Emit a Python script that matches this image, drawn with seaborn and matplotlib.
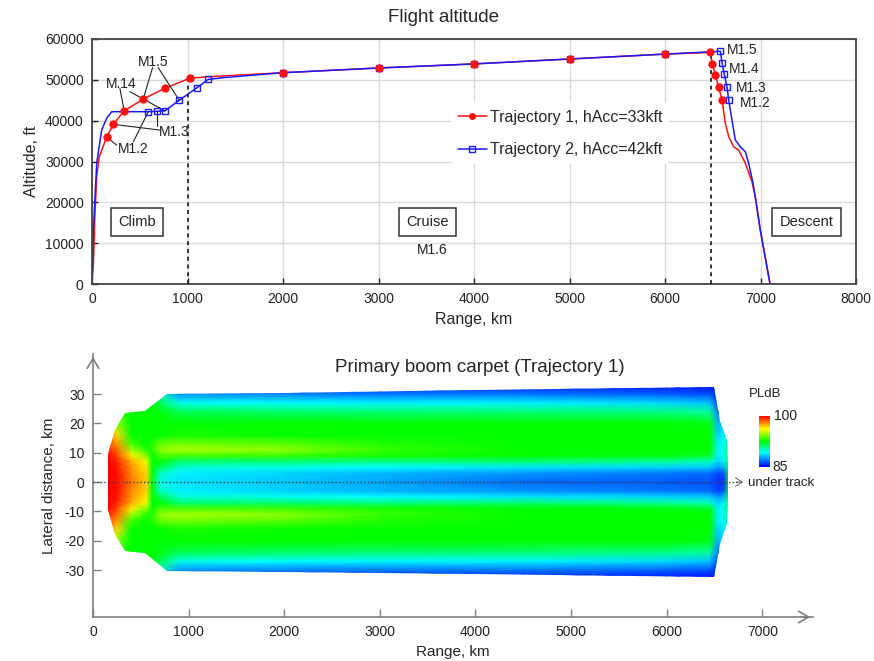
import matplotlib.pyplot as plt
import matplotlib.colors as mcolors
from matplotlib.lines import Line2D
from matplotlib.patches import Polygon
import numpy as np
import pandas as pd
import seaborn as sns

# ===== Flight altitude data =====
traj1_range = [0, 14, 31, 49, 76, 154, 223, 337, 536, 760, 1024, 1250, 2000, 3000, 4000,
               5000, 6000, 6476, 6493, 6527, 6562, 6597, 6632, 6667, 6719, 6771, 6841,
               6910, 6945, 6998, 7100]
traj1_alt = [0, 5000, 17300, 26300, 31200, 36000, 39100, 42400, 45300, 47900, 50400, 50800,
             51750, 52900, 53900, 55100, 56300, 56700, 54000, 51300, 48150, 45060, 39300,
             36100, 33600, 32800, 29600, 25100, 21400, 13200, 0]
traj1_mach_range = [154, 223, 337, 536, 760, 1024, 2000, 3000, 4000, 5000, 6000,
                    6476, 6493, 6527, 6562, 6597]
traj1_mach_alt = [36000, 39100, 42400, 45300, 47900, 50400, 51750, 52900, 53900, 55100,
                  56300, 56700, 54000, 51300, 48150, 45060]

traj2_range = [0, 14, 49, 101, 154, 206, 589, 683, 763, 913, 1101, 1216, 1400, 2000, 3000,
               4000, 5000, 6000, 6580, 6597, 6621, 6649, 6667, 6701, 6736, 6789, 6841, 6876,
               6918, 6945, 6998, 7100]
traj2_alt = [0, 13200, 29600, 37700, 40600, 42200, 42200, 42300, 42400, 45000, 48100, 50100,
             50600, 51750, 52900, 53900, 55100, 56300, 57000, 54200, 51400, 48300, 45060,
             40200, 35300, 33600, 32400, 29600, 25100, 21400, 13200, 0]
traj2_mach_range = [589, 683, 763, 913, 1101, 1216, 2000, 3000, 4000, 5000, 6000,
                    6580, 6597, 6621, 6649, 6667]
traj2_mach_alt = [42200, 42300, 42400, 45000, 48100, 50100, 51750, 52900, 53900, 55100,
                  56300, 57000, 54200, 51400, 48300, 45060]

# climb labels: text, text position, leader start (red), leader start (blue)
climb_labels = ["M1.2", "M1.3", "M.14", "M1.5"]
climb_label_pos = [(432, 33000), (860, 37300), (310, 49000), (641, 54400)]
leader_red_from = [(258, 34000), (711, 37700), (292, 47900), (634, 53000)]
leader_blue_from = [(432, 34800), (683, 38600), (397, 47100), (693, 53000)]

descent_labels = ["M1.5", "M1.4", "M1.3", "M1.2"]
descent_label_pos = [(6646, 57300), (6667, 52650), (6740, 48000), (6780, 44300)]

phase_names = ["Climb", "Cruise", "Descent"]
phase_pos = [(470, 15200), (3510, 15200), (7480, 15200)]
phase_bounds = [1000, 6480]
phase_bound_top = [50400, 56700]

# ===== Boom carpet data (PLdB at range stations x lateral offsets) =====
carpet_stations = [150, 250, 400, 560, 620, 700, 900, 2000, 3000, 4500, 6000, 6450, 6540,
                   6600, 6660]
lat_half = [0, 3, 5, 7, 9, 11, 13, 16, 20, 24, 27, 30, 33]
pldb_half = [
    [100, 100, 100, 100, 100, 99.5, 99, 98.5, 97.5, 96, 95, 94, 94],
    [99.8, 99.8, 99.7, 99.5, 99, 98.5, 97.8, 96.8, 94.5, 93, 92.5, 92.5, 92.5],
    [98.3, 98, 97.8, 97.5, 96.5, 95, 93.5, 92.5, 92.5, 92.5, 92.5, 92.5, 92.5],
    [97, 96.8, 96.5, 96, 94.5, 93, 92.5, 92.5, 92.5, 92.5, 92.5, 92, 92],
    [92.5, 92.5, 92.5, 92.5, 92.5, 93, 93, 92.5, 92.5, 92.5, 92.3, 91.5, 91],
    [89.5, 90, 91.5, 92.5, 93.5, 94.5, 94, 92.5, 92.5, 92.3, 91.5, 90, 89],
    [88.8, 89, 89.8, 91, 93.5, 95, 94.2, 92.8, 92.5, 91.5, 89.5, 87.5, 86],
    [88.3, 88.5, 89.5, 91, 93.3, 94.5, 93.8, 92.6, 92.5, 91.2, 89.2, 87.2, 85.8],
    [87.8, 88, 89.2, 90.8, 92.8, 93.3, 93, 92.5, 92.5, 91, 89, 87, 85.6],
    [86.8, 87.5, 88.8, 91, 92.5, 92.5, 92.5, 92.5, 92.5, 91, 89, 87, 85.5],
    [86.5, 87, 88.5, 90.5, 92.3, 92.5, 92.5, 92.5, 92.5, 90.8, 88.6, 86.6, 85.3],
    [86.3, 86.8, 88.3, 90, 92, 92.5, 92.5, 92.5, 92.3, 90.5, 88.2, 86.3, 85.2],
    [85.8, 86.2, 87.5, 88.5, 89, 89, 89, 88.5, 88, 87, 86.2, 85.8, 85.5],
    [86, 86.5, 88, 89, 89.5, 89.5, 89.5, 89, 88.5, 87.5, 86.5, 86, 85.5],
    [93, 93, 92.8, 92.5, 92, 91.5, 91, 90, 89, 88, 87, 86, 85.5],
]
outline_range = [157, 230, 335, 545, 775, 2000, 4000, 6496, 6560, 6632, 6645]
outline_half = [9.5, 17.7, 23.5, 24.2, 30.2, 30.5, 31.3, 32.4, 21, 14, 4]

# ===== Style =====
sns.set_theme(style="whitegrid")
plt.rcParams["font.family"] = ["Liberation Sans", "DejaVu Sans"]
plt.rcParams["axes.unicode_minus"] = False

RED = "#ff1010"
BLUE = "#1a1aff"
DARK = "#333333"

fig = plt.figure(figsize=(8.74, 6.61), dpi=100)

# ----- Top: flight altitude -----
ax1 = fig.add_axes([0.1053, 0.5703, 0.8741, 0.3707])
df1 = pd.DataFrame({"range": traj1_range, "alt": traj1_alt})
df2 = pd.DataFrame({"range": traj2_range, "alt": traj2_alt})
sns.lineplot(data=df1, x="range", y="alt", sort=False, estimator=None, color=RED, lw=1.1, ax=ax1)
sns.lineplot(data=df2, x="range", y="alt", sort=False, estimator=None, color=BLUE, lw=1.1, ax=ax1)
ax1.plot(traj2_mach_range, traj2_mach_alt, ls="none", marker="s", ms=5, mfc="none",
         mec=BLUE, mew=1.0, zorder=4)
ax1.plot(traj1_mach_range, traj1_mach_alt, ls="none", marker="o", ms=5, color=RED, zorder=5)

for xb, top in zip(phase_bounds, phase_bound_top):
    ax1.plot([xb, xb], [0, top], color=DARK, ls=(0, (2, 2)), lw=1.4, zorder=3)

for i, (lab, pos) in enumerate(zip(climb_labels, climb_label_pos)):
    ax1.text(pos[0], pos[1], lab, fontsize=10, ha="center", va="center", color="#222222")
    ax1.plot([leader_red_from[i][0], traj1_mach_range[i]],
             [leader_red_from[i][1], traj1_mach_alt[i]], color="#222222", lw=0.8, zorder=3)
    ax1.plot([leader_blue_from[i][0], traj2_mach_range[i]],
             [leader_blue_from[i][1], traj2_mach_alt[i]], color="#222222", lw=0.8, zorder=3)

for lab, pos in zip(descent_labels, descent_label_pos):
    ax1.text(pos[0], pos[1], lab, fontsize=10, ha="left", va="center", color="#222222")

for name, pos in zip(phase_names, phase_pos):
    ax1.text(pos[0], pos[1], name, fontsize=10.5, ha="center", va="center", color="#222222",
             bbox=dict(boxstyle="square,pad=0.5", fc="white", ec=DARK, lw=1.1))
ax1.text(3560, 8300, "M1.6", fontsize=10, ha="center", va="center", color="#222222")

handles = [Line2D([], [], color=RED, marker="o", ms=4, lw=1.1),
           Line2D([], [], color=BLUE, marker="s", ms=4, mfc="none", lw=1.1)]
leg = ax1.legend(handles, ["Trajectory 1, hAcc=33kft", "Trajectory 2, hAcc=42kft"],
                 loc="upper left", bbox_to_anchor=(0.46, 0.77), fontsize=11.5,
                 handlelength=1.8, handletextpad=0.2, labelspacing=1.1,
                 frameon=True, facecolor="white", edgecolor="none", framealpha=1)

ax1.set_xlim(0, 8000)
ax1.set_ylim(0, 60000)
ax1.set_xticks(range(0, 8001, 1000))
ax1.set_yticks(range(0, 60001, 10000))
ax1.grid(True, color="#d9d9d9", lw=1.0)
ax1.tick_params(direction="in", length=4, width=1, colors="#222222", labelsize=10,
                bottom=True, left=True, pad=6)
for s in ax1.spines.values():
    s.set_color("#444444")
    s.set_linewidth(1.3)
ax1.set_xlabel("Range, km", fontsize=11.5, labelpad=4)
ax1.set_ylabel("Altitude, ft", fontsize=11.5, labelpad=4)
fig.text(443 / 874, 1 - 18 / 661, "Flight altitude", fontsize=13.5, ha="center", va="center")

# ----- Bottom: primary boom carpet -----
ax2 = fig.add_axes([0.1064, 0.0666, 0.8238, 0.3979])
ax2.set_facecolor("white")
lat_full = np.array([-v for v in lat_half[::-1]] + lat_half[1:])
pldb = np.array([row[::-1] + row[1:] for row in pldb_half])
X, Y = np.meshgrid(np.array(carpet_stations, dtype=float), lat_full, indexing="ij")

cmap = mcolors.LinearSegmentedColormap.from_list(
    "pldb", [(0.0, "#0000ff"), (0.28, "#00ffff"), (0.5, "#00ff00"),
             (0.75, "#ffff00"), (1.0, "#ff0000")])
mesh = ax2.pcolormesh(X, Y, pldb, shading="gouraud", cmap=cmap, vmin=85, vmax=100, zorder=1)

upper = list(zip(outline_range, outline_half))
lower = [(r, -h) for r, h in zip(outline_range[::-1], outline_half[::-1])]
clip = Polygon(upper + lower, closed=True, transform=ax2.transData, fc="none", ec="none")
ax2.add_patch(clip)
mesh.set_clip_path(clip)

ax2.plot([0, 6760], [0, 0], color="#444444", ls=(0, (1, 1.6)), lw=1.0, zorder=3)
ax2.annotate("", xy=(6830, 0), xytext=(6700, 0),
             arrowprops=dict(arrowstyle="->,head_length=0.4,head_width=0.25",
                             color="#555555", lw=0.8, ls=(0, (1, 1))))
ax2.text(6850, -0.3, "under track", fontsize=9.5, ha="left", va="center", color="#222222")

ax2.set_xlim(0, 7530)
ax2.set_ylim(-46, 43.7)
ax2.set_xticks(range(0, 7001, 1000))
ax2.set_yticks(range(-30, 31, 10))
ax2.grid(False)
for side in ["top", "right"]:
    ax2.spines[side].set_visible(False)
for side in ["left", "bottom"]:
    ax2.spines[side].set_color("#808080")
    ax2.spines[side].set_linewidth(1.2)
ax2.tick_params(direction="in", length=6, width=1, color="#808080", labelcolor="#222222",
                labelsize=10, bottom=True, left=True, pad=6)
ax2.annotate("", xy=(1.0, 0), xycoords="axes fraction", xytext=(0.98, 0),
             arrowprops=dict(arrowstyle="->,head_length=0.6,head_width=0.35",
                             color="#808080", lw=1.2))
ax2.annotate("", xy=(0, 1.0), xycoords="axes fraction", xytext=(0, 0.97),
             arrowprops=dict(arrowstyle="->,head_length=0.6,head_width=0.35",
                             color="#808080", lw=1.2))
ax2.set_xlabel("Range, km", fontsize=11, labelpad=4)
ax2.set_ylabel("Lateral distance, km", fontsize=11, labelpad=6)
fig.text(480 / 874, 1 - 367 / 661, "Primary boom carpet (Trajectory 1)", fontsize=13.5,
         ha="center", va="center")

# colour bar
cax = fig.add_axes([759 / 874, 1 - 467 / 661, 11 / 874, 51 / 661])
cb = fig.colorbar(mesh, cax=cax)
cb.set_ticks([])
cb.outline.set_visible(False)
fig.text(765 / 874, 1 - 394 / 661, "PLdB", fontsize=9.5, ha="center", va="center", color="#222222")
fig.text(774 / 874, 1 - 416 / 661, "100", fontsize=10, ha="left", va="center", color="#222222")
fig.text(772 / 874, 1 - 467 / 661, "85", fontsize=10, ha="left", va="center", color="#222222")

fig.savefig("out.png", dpi=100)
